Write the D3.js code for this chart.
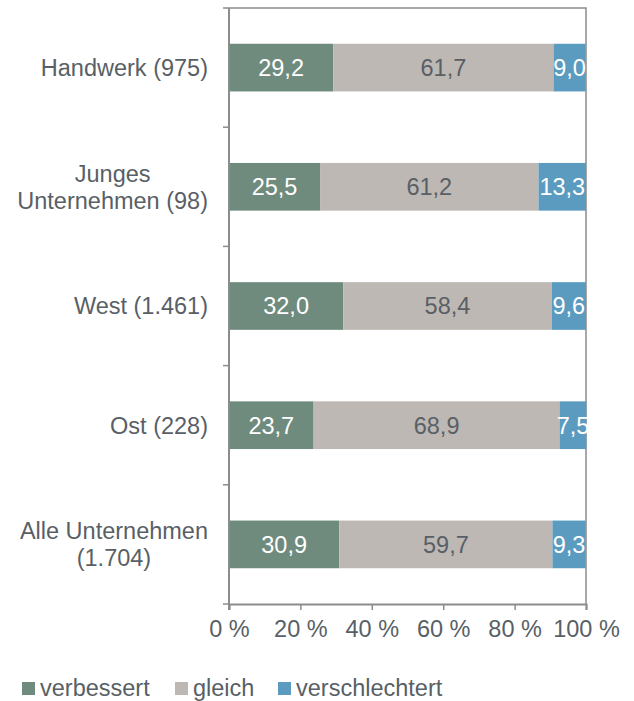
<!DOCTYPE html>
<html>
<head>
<meta charset="utf-8">
<script src="https://cdn.jsdelivr.net/npm/d3@7"></script>
<style>
  body { margin: 0; background: #fff; }
  svg text { font-family: "Liberation Sans", Arial, sans-serif; }
</style>
</head>
<body>
<svg id="chart" width="634" height="701" font-family="Liberation Sans, Arial, sans-serif"></svg>
<script>
'use strict';

const categories = [['Handwerk (975)'], ['Junges', 'Unternehmen (98)'], ['West (1.461)'], ['Ost (228)'], ['Alle Unternehmen', '(1.704)']];
const seriesNames = ['verbessert', 'gleich', 'verschlechtert'];
const verbessert = [29.2, 25.5, 32.0, 23.7, 30.9];
const gleich = [61.7, 61.2, 58.4, 68.9, 59.7];
const verschlechtert = [9.0, 13.3, 9.6, 7.5, 9.3];
const xTicks = [0, 20, 40, 60, 80, 100];

(function () {
    const svg = d3.select('#chart');
    const colors = ['#6f8b7e', '#bdb8b4', '#5b9bc0'];
    const labelColors = ['#ffffff', '#595f66', '#ffffff'];
    const textColor = '#595f66';
    const lineColor = '#8c8c8c';
    const fs = 23.5;
    const left = 229, right = 586, top = 8, bottom = 604;

    const rows = categories.map((c, i) => ({
        key: i,
        label: c,
        vals: [verbessert[i], gleich[i], verschlechtert[i]]
    }));

    const x = d3.scaleLinear().domain([0, 100]).range([left, right]);
    const y = d3.scaleBand().domain(rows.map(r => r.key)).range([top, bottom])
        .paddingInner(0.6).paddingOuter(0.3);
    const step = y.step();

    // frame (top + right)
    svg.append('path')
        .attr('d', 'M' + left + ',' + top + 'H' + right + 'V' + bottom)
        .attr('fill', 'none').attr('stroke', lineColor).attr('stroke-width', 1.5);

    // bars
    rows.forEach(r => {
        let acc = 0;
        const g = svg.append('g');
        r.vals.forEach((v, j) => {
            g.append('rect')
                .attr('x', x(acc))
                .attr('y', y(r.key))
                .attr('width', x(acc + v) - x(acc))
                .attr('height', y.bandwidth())
                .attr('fill', colors[j]);
            acc += v;
        });
        acc = 0;
        r.vals.forEach((v, j) => {
            g.append('text')
                .attr('x', x(acc + v / 2))
                .attr('y', y(r.key) + y.bandwidth() / 2)
                .attr('dy', '0.36em')
                .attr('text-anchor', 'middle')
                .attr('font-size', fs)
                .attr('fill', labelColors[j])
                .text(d3.format('.1f')(v).replace('.', ','));
            acc += v;
        });
    });

    // y axis line + ticks at band boundaries
    const ya = svg.append('g');
    ya.append('line')
        .attr('x1', left).attr('x2', left).attr('y1', top).attr('y2', bottom + 6)
        .attr('stroke', lineColor).attr('stroke-width', 2);
    d3.range(rows.length + 1).forEach(i => {
        ya.append('line')
            .attr('x1', left - 6).attr('x2', left)
            .attr('y1', top + i * step).attr('y2', top + i * step)
            .attr('stroke', lineColor).attr('stroke-width', 1.5);
    });

    // category labels
    rows.forEach(r => {
        const cy = y(r.key) + y.bandwidth() / 2;
        const t = svg.append('text')
            .attr('font-size', fs)
            .attr('fill', textColor)
            .attr('text-anchor', r.label.length > 1 ? 'middle' : 'end');
        const lh = 27;
        r.label.forEach((line, k) => {
            t.append('tspan')
                .attr('x', 208)
                .attr('y', cy + (k - (r.label.length - 1) / 2) * lh)
                .attr('dy', '0.36em')
                .text(line);
        });
        if (r.label.length > 1) {
            const w = t.node().getBBox().width;
            t.selectAll('tspan').attr('x', 208 - w / 2);
        }
    });

    // x axis
    const xa = svg.append('g').attr('transform', 'translate(0,' + bottom + ')')
        .call(d3.axisBottom(x).tickValues(xTicks).tickSize(6).tickPadding(10)
            .tickFormat(d => d + ' %'));
    xa.attr('font-family', null);
    xa.select('.domain').attr('stroke', lineColor).attr('stroke-width', 2);
    xa.selectAll('.tick line').attr('stroke', lineColor).attr('stroke-width', 1.5);
    xa.selectAll('.tick text')
        .attr('font-size', fs)
        .attr('fill', textColor);

    // legend
    const legendX = [22, 175, 278];
    const lg = svg.append('g');
    seriesNames.forEach((s, j) => {
        lg.append('rect')
            .attr('x', legendX[j]).attr('y', 682)
            .attr('width', 13).attr('height', 13)
            .attr('fill', colors[j]);
        lg.append('text')
            .attr('x', legendX[j] + 18).attr('y', 688)
            .attr('dy', '0.36em')
            .attr('font-size', fs)
            .attr('fill', textColor)
            .text(s);
    });
}());
</script>
</body>
</html>
